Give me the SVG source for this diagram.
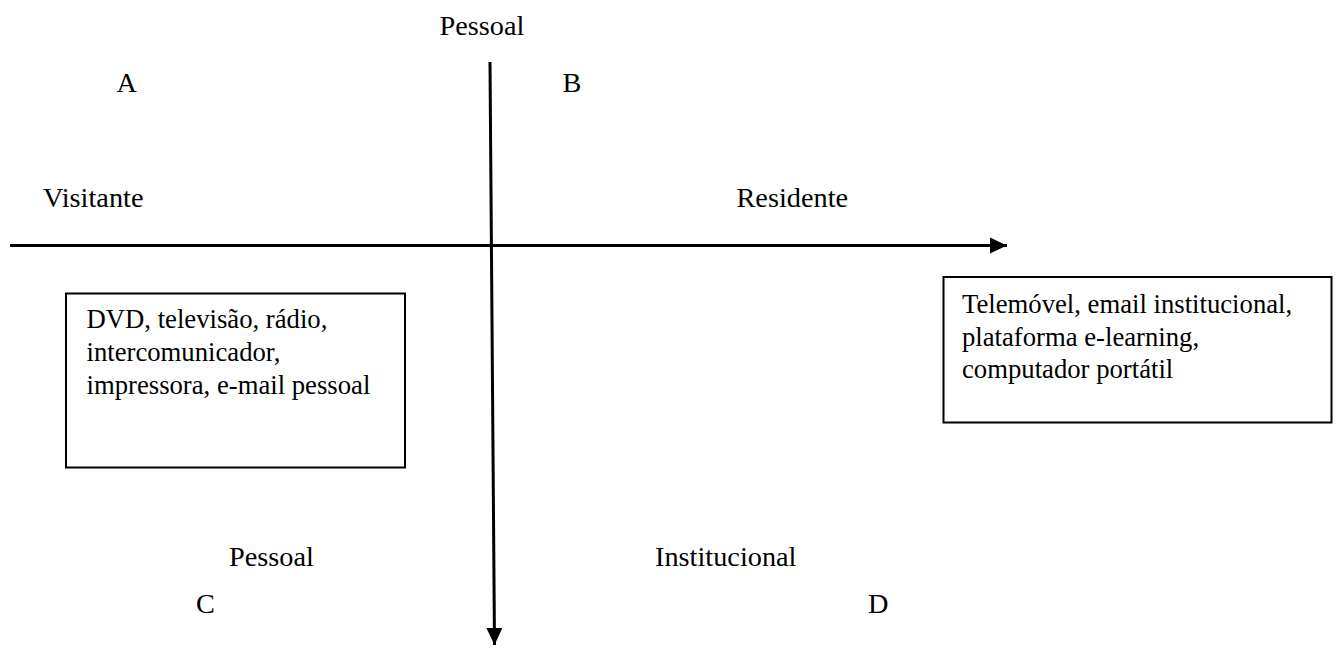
<svg xmlns="http://www.w3.org/2000/svg" width="1336" height="653" viewBox="0 0 1336 653">
  <style>
    .lbl { font-family: "Liberation Serif", "Times New Roman", serif; font-size: 28.3px; fill: #000; }
    .box { fill: #fff; stroke: #000; stroke-width: 2; }
    .boxtxt { font-family: "Liberation Serif", "Times New Roman", serif; font-size: 26.7px; fill: #000; }
    .axis { stroke: #000; stroke-width: 3; fill: none; }
  </style>
  <defs>
    <marker id="head" markerUnits="userSpaceOnUse" markerWidth="18" markerHeight="18" refX="17" refY="9" orient="auto">
      <path d="M0,1 L17,9 L0,17 Z" fill="#000"/>
    </marker>
  </defs>
  <rect width="1336" height="653" fill="#fff"/>

  <!-- axes -->
  <g id="connectors">
    <line class="axis" x1="10" y1="245.5" x2="1007" y2="245.5" marker-end="url(#head)"/>
    <line class="axis" x1="490" y1="62" x2="494.5" y2="645" marker-end="url(#head)"/>
  </g>

  <!-- axis labels -->
  <g id="labels">
    <text class="lbl" x="439.5" y="35">Pessoal</text>
    <text class="lbl" x="116.5" y="92">A</text>
    <text class="lbl" x="562.5" y="92">B</text>
    <text class="lbl" x="43" y="207">Visitante</text>
    <text class="lbl" x="736.5" y="207">Residente</text>
    <text class="lbl" x="229" y="566">Pessoal</text>
    <text class="lbl" x="655" y="566">Institucional</text>
    <text class="lbl" x="196" y="613">C</text>
    <text class="lbl" x="868" y="613">D</text>
  </g>

  <!-- quadrant A/C box -->
  <g id="box-visitante">
    <rect class="box" x="66" y="293.5" width="339" height="174"/>
    <text class="boxtxt" x="86.5" y="328">DVD, televisão, rádio,</text>
    <text class="boxtxt" x="86.5" y="361">intercomunicador,</text>
    <text class="boxtxt" x="86.5" y="394">impressora, e-mail pessoal</text>
  </g>

  <!-- quadrant B/D box -->
  <g id="box-residente">
    <rect class="box" x="943.5" y="277" width="388" height="145.5"/>
    <text class="boxtxt" x="962" y="313">Telemóvel, email institucional,</text>
    <text class="boxtxt" x="962" y="345.5">plataforma e-learning,</text>
    <text class="boxtxt" x="962" y="378">computador portátil</text>
  </g>
</svg>
